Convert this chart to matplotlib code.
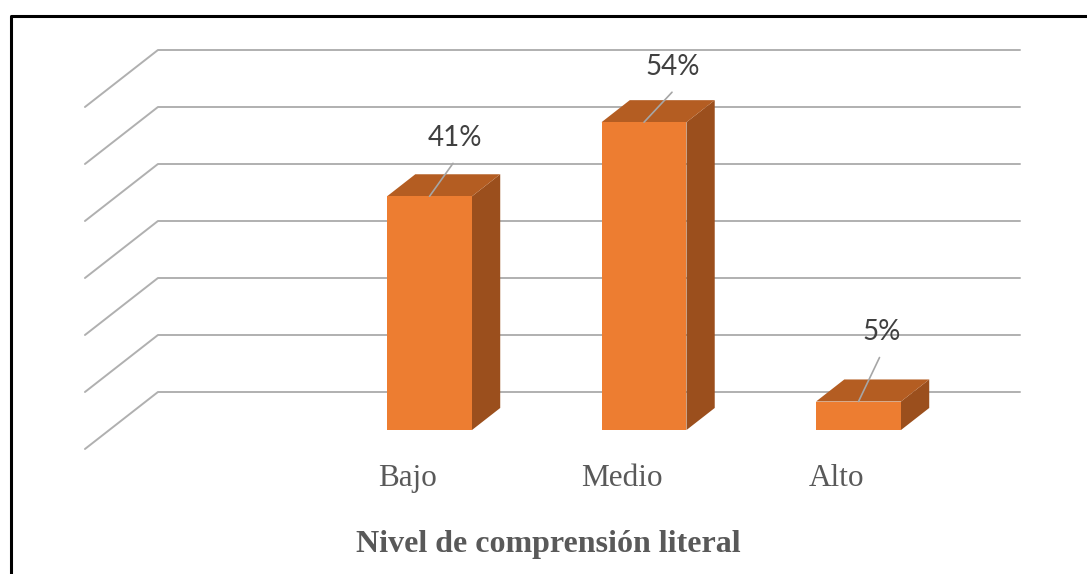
import matplotlib.pyplot as plt
from matplotlib.patches import Polygon
from matplotlib.lines import Line2D

# datos
categorias = ['Bajo', 'Medio', 'Alto']
porcentajes = [41, 54, 5]
etiquetas = ['41%', '54%', '5%']
niveles = [0, 10, 20, 30, 40, 50, 60]
titulo = 'Nivel de comprensión literal'

# pseudo 3D (proyeccion oblicua)
DX, DY = 0.3403, 10.0      # desplazamiento de profundidad completa
Z_FRENTE, Z_FONDO = 0.333, 0.72
ANCHO = 0.198
X_IZQ, X_DER = -1.493, 2.526

# posiciones de las etiquetas de datos (offset en pixeles)
lider = [(23.5, 33), (28, 30), (21, 44)]
texto_off = [(25.5, 50), (29, 47), (23, 62)]


def P(x, y, z):
    return (x + z * DX, y + z * DY)


fig = plt.figure(figsize=(10.87, 5.74), dpi=100)
ax = fig.add_axes([0, 0, 1, 1])
ax.set_xlim(-405.2 / 214.5, (1087 - 405.2) / 214.5)
ax.set_ylim((449 - 574) / 5.7, 449 / 5.7)
ax.axis('off')

# lineas de division
for n in niveles:
    xs, ys = zip(P(X_IZQ, n, 0), P(X_IZQ, n, 1), P(X_DER, n, 1))
    ax.plot(xs, ys, color='#b0b0b0', lw=1.4, solid_capstyle='round', zorder=1)

# barras
for i, v in enumerate(porcentajes):
    x0, x1 = i - ANCHO, i + ANCHO
    frente = [P(x0, 0, Z_FRENTE), P(x1, 0, Z_FRENTE), P(x1, v, Z_FRENTE), P(x0, v, Z_FRENTE)]
    tapa = [P(x0, v, Z_FRENTE), P(x1, v, Z_FRENTE), P(x1, v, Z_FONDO), P(x0, v, Z_FONDO)]
    lado = [P(x1, 0, Z_FRENTE), P(x1, v, Z_FRENTE), P(x1, v, Z_FONDO), P(x1, 0, Z_FONDO)]
    ax.add_patch(Polygon(lado, closed=True, fc='#9b4f1d', ec='none', zorder=2))
    ax.add_patch(Polygon(tapa, closed=True, fc='#b45d22', ec='none', zorder=2))
    ax.add_patch(Polygon(frente, closed=True, fc='#ed7d31', ec='none', zorder=3))

    punto = P(i, v, Z_FRENTE)
    ax.annotate('', xy=punto, xytext=lider[i], textcoords='offset pixels',
                arrowprops=dict(arrowstyle='-', color='#a6a6a6', lw=1.2,
                                shrinkA=0, shrinkB=0), zorder=4)
    ax.annotate(etiquetas[i], xy=punto, xytext=texto_off[i], textcoords='offset pixels',
                ha='center', va='baseline', fontsize=20, family='Lato',
                color='#404040', zorder=5)

# etiquetas de categoria
for i, c in enumerate(categorias):
    ax.text(i + 0.01, -6.49, c, ha='center', va='baseline',
            fontsize=22.5, family='Liberation Serif', color='#595959')

fig.text(548 / 1087, 1 - 552 / 574, titulo, ha='center', va='baseline',
         fontsize=23, family='Liberation Serif', fontweight='bold', color='#595959')

# borde
fig.add_artist(Line2D([10.5 / 1087, 10.5 / 1087, 1], [0, 1 - 15.5 / 574, 1 - 15.5 / 574],
                      transform=fig.transFigure, color='black', lw=2.2))

fig.savefig('out.png', dpi=100)
